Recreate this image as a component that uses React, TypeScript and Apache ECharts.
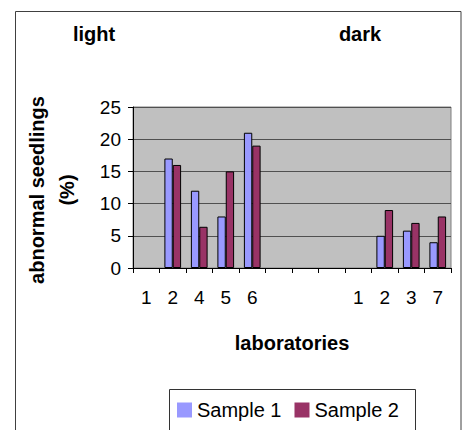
import React, { useEffect, useRef } from "react";
import * as echarts from "echarts";

const laboratories = ["1", "2", "4", "5", "6", "", "", "", "1", "2", "3", "7"];
const sample1 = [null, 17, 12, 8, 21, null, null, null, null, 5, 5.8, 4];
const sample2 = [null, 16, 6.4, 15, 19, null, null, null, null, 9, 7, 8];
const yTicks = { min: 0, max: 25, interval: 5 };
const groupTitles = ["light", "dark"];

const FONT = 'Arial, "Liberation Sans", sans-serif';

export default function App() {
  const ref = useRef<HTMLDivElement>(null);
  useEffect(() => {
    if (!ref.current) return;
    const chart = echarts.init(ref.current, undefined, { renderer: "svg" });
    chart.setOption({
      animation: false,
      backgroundColor: "#ffffff",
      grid: {
        left: 133,
        top: 107,
        width: 318,
        height: 161,
        show: true,
        backgroundColor: "#C0C0C0",
        borderColor: "#808080",
        borderWidth: 1,
      },
      legend: {
        left: 177,
        top: 400,
        padding: 0,
        itemWidth: 15,
        itemHeight: 15,
        itemGap: 13,
        icon: "rect",
        itemStyle: { borderWidth: 0 },
        textStyle: { fontFamily: FONT, fontSize: 20, color: "#000" },
        data: ["Sample 1", "Sample 2"],
      },
      xAxis: {
        type: "category",
        data: laboratories,
        name: "laboratories",
        nameLocation: "middle",
        nameGap: 75,
        nameTextStyle: {
          fontFamily: FONT,
          fontSize: 20,
          fontWeight: "bold",
          color: "#000",
          verticalAlign: "middle",
        },
        axisLine: { show: true, lineStyle: { color: "#000", width: 1 } },
        axisTick: { show: true, length: 5, lineStyle: { color: "#000" } },
        axisLabel: {
          interval: 0,
          margin: 20,
          fontFamily: FONT,
          fontSize: 19,
          color: "#000",
        },
        splitLine: { show: false },
      },
      yAxis: {
        type: "value",
        min: yTicks.min,
        max: yTicks.max,
        interval: yTicks.interval,
        axisLine: { show: true, lineStyle: { color: "#000", width: 1 } },
        axisTick: { show: true, length: 5, lineStyle: { color: "#000" } },
        axisLabel: {
          margin: 12,
          fontFamily: FONT,
          fontSize: 19,
          color: "#000",
        },
        splitLine: { show: true, lineStyle: { color: "#505050", width: 1 } },
      },
      series: [
        {
          name: "Sample 1",
          type: "bar",
          data: sample1,
          barGap: "0%",
          barCategoryGap: "37%",
          itemStyle: { color: "#9999FF", borderColor: "#000", borderWidth: 1 },
        },
        {
          name: "Sample 2",
          type: "bar",
          data: sample2,
          itemStyle: { color: "#993366", borderColor: "#000", borderWidth: 1 },
        },
      ],
      graphic: [
        {
          type: "rect",
          shape: { x: 15.5, y: 11.5, width: 445.5, height: 460 },
          style: { fill: "none", stroke: "#404040", lineWidth: 1 },
          silent: true,
          z: -1,
        },
        {
          type: "rect",
          shape: { x: 169.5, y: 389.5, width: 246, height: 60 },
          style: { fill: "none", stroke: "#333333", lineWidth: 1 },
          silent: true,
        },
        {
          type: "text",
          x: 94,
          y: 34,
          style: {
            text: groupTitles[0],
            font: `bold 20px ${FONT}`,
            fill: "#000",
            align: "center",
            verticalAlign: "middle",
          },
        },
        {
          type: "text",
          x: 360,
          y: 34,
          style: {
            text: groupTitles[1],
            font: `bold 20px ${FONT}`,
            fill: "#000",
            align: "center",
            verticalAlign: "middle",
          },
        },
        {
          type: "text",
          x: 52,
          y: 190,
          rotation: Math.PI / 2,
          style: {
            text: "abnormal seedlings\n(%)",
            font: `bold 20px ${FONT}`,
            lineHeight: 30,
            fill: "#000",
            align: "center",
            verticalAlign: "middle",
          },
        },
      ],
    });
    return () => chart.dispose();
  }, []);
  return (
    <div
      ref={ref}
      style={{ position: "fixed", left: 0, top: 0, width: 464, height: 430 }}
    />
  );
}
